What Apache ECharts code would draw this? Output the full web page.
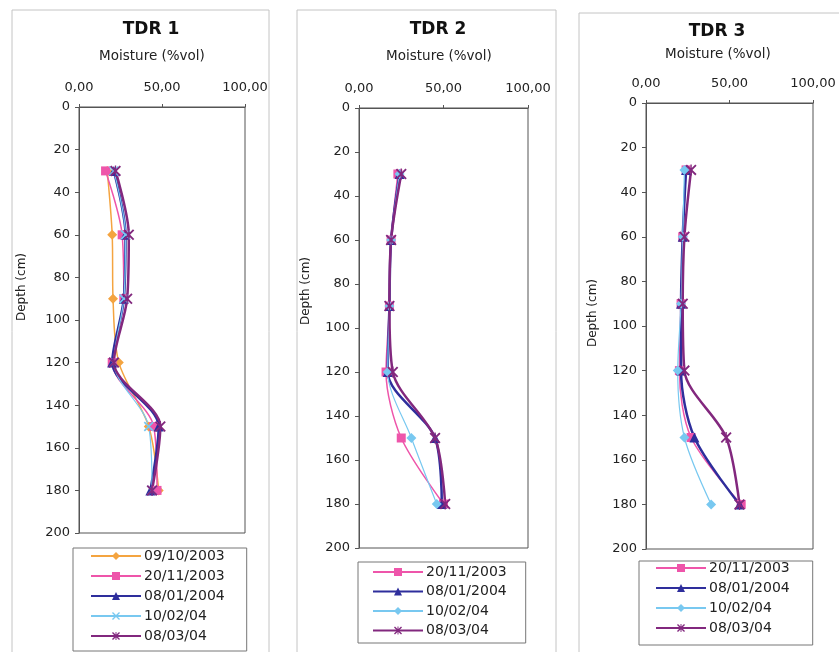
<!DOCTYPE html>
<html><head><meta charset="utf-8">
<script src="https://cdn.jsdelivr.net/npm/echarts@6/dist/echarts.min.js"></script>
<style>html,body{margin:0;padding:0;background:#fff}#c{width:839px;height:652px}</style>
</head><body><div id="c"></div><script>
// ---------- DATA ----------
const depths = [30, 60, 90, 120, 150, 180];
const xTicks = [0, 50, 100];
const panelTitles = ['TDR 1', 'TDR 2', 'TDR 3'];
const xAxisTitle = 'Moisture (%vol)';
const yAxisTitle = 'Depth (cm)';
const dateNames = ['09/10/2003', '20/11/2003', '08/01/2004', '10/02/04', '08/03/04'];

// TDR 1 moisture (%vol) at each depth
const tdr1_09102003 = [17, 20, 20.5, 24, 42, 48];
const tdr1_20112003 = [16, 26, 27, 20, 45, 47];
const tdr1_08012004 = [21, 28, 27, 20, 48, 43];
const tdr1_100204   = [21, 28, 27, 21, 42, 44];
const tdr1_080304   = [22, 30, 29, 21, 49, 44];
// TDR 2
const tdr2_20112003 = [23, 19, 18, 16, 25, 50];
const tdr2_08012004 = [24, 19, 18, 17, 45, 49];
const tdr2_100204   = [24, 19, 18, 17, 31, 46];
const tdr2_080304   = [25, 19, 18, 20, 45, 51];
// TDR 3
const tdr3_20112003 = [24, 22, 21, 20, 27, 57];
const tdr3_08012004 = [24, 22, 21, 21, 29, 56];
const tdr3_100204   = [23, 22, 21, 19, 23, 39];
const tdr3_080304   = [27, 23, 22, 23, 48, 56];

// ---------- STYLE / LAYOUT ----------
const XSYM = 'path://M0,1.2L1.2,0L5,3.8L8.8,0L10,1.2L6.2,5L10,8.8L8.8,10L5,6.2L1.2,10L0,8.8L3.8,5Z';
const STAR = 'path://M0,1.2L1.2,0L4.4,3.2L4.4,0L5.6,0L5.6,3.2L8.8,0L10,1.2L6.2,5L10,8.8L8.8,10L5.6,6.8L5.6,10L4.4,10L4.4,6.8L1.2,10L0,8.8L3.8,5Z';
const styles = {
  '09/10/2003': {color: '#F4A440', symbol: 'diamond', size: 10, width: 1.5},
  '20/11/2003': {color: '#EE55AA', symbol: 'rect', size: 9, width: 1.5},
  '08/01/2004': {color: '#2E2E9C', symbol: 'triangle', size: 10, width: 2.5},
  '10/02/04':   {color: '#78C8F0', symbol: 'diamond', size: 10, width: 1.2},
  '08/03/04':   {color: '#82287E', symbol: STAR, size: 11, width: 2.5}
};
const panels = [
  {grid: {left: 79, top: 107, width: 166, height: 426}, frame: [12, 10, 257, 700],
   titleX: 151, titleY: 21, subY: 49, depthX: 22, depthY: 287,
   legend: {left: 73, top: 548, padding: [1, 22, 8, 17], gap: 6},
   series: [['09/10/2003', tdr1_09102003], ['20/11/2003', tdr1_20112003], ['08/01/2004', tdr1_08012004],
            ['10/02/04', tdr1_100204, XSYM], ['08/03/04', tdr1_080304]]},
  {grid: {left: 359, top: 108, width: 169, height: 440}, frame: [297, 10, 259, 700],
   titleX: 438, titleY: 21, subY: 49, depthX: 306, depthY: 291,
   legend: {left: 358, top: 562, padding: [3, 19, 5.5, 14], gap: 5.5},
   series: [['20/11/2003', tdr2_20112003], ['08/01/2004', tdr2_08012004],
            ['10/02/04', tdr2_100204], ['08/03/04', tdr2_080304]]},
  {grid: {left: 646, top: 103, width: 167, height: 446}, frame: [579, 13, 300, 700],
   titleX: 717, titleY: 23, subY: 47, depthX: 593, depthY: 313,
   legend: {left: 639, top: 561, padding: [0, 23, 10, 16], gap: 6},
   series: [['20/11/2003', tdr3_20112003], ['08/01/2004', tdr3_08012004],
            ['10/02/04', tdr3_100204], ['08/03/04', tdr3_080304]]}
];

const FONT = 'DejaVu Sans';
const option = {
  animation: false,
  backgroundColor: '#fff',
  title: [], grid: [], xAxis: [], yAxis: [], legend: [], series: [], graphic: []
};

panels.forEach((p, i) => {
  option.graphic.push({type: 'rect', z: -10, shape: {x: p.frame[0], y: p.frame[1], width: p.frame[2], height: p.frame[3]},
    style: {fill: 'none', stroke: '#c4c4c4', lineWidth: 1}});
  option.graphic.push({type: 'text', x: p.depthX, y: p.depthY, rotation: Math.PI / 2,
    style: {text: yAxisTitle, font: '12px "DejaVu Sans"', fill: '#222', textAlign: 'center', textVerticalAlign: 'middle'}});
  option.title.push({text: panelTitles[i], left: p.titleX, top: p.titleY, textAlign: 'center', padding: 0,
    textStyle: {fontFamily: FONT, fontWeight: 'bold', fontSize: 17, color: '#111'}});
  option.title.push({text: xAxisTitle, left: p.titleX + 1, top: p.subY, textAlign: 'center', padding: 0,
    textStyle: {fontFamily: FONT, fontWeight: 'normal', fontSize: 13.5, color: '#222'}});
  option.grid.push(Object.assign({show: true, borderColor: '#555', borderWidth: 1, backgroundColor: '#fff'}, p.grid));
  option.xAxis.push({type: 'value', gridIndex: i, position: 'top', min: xTicks[0], max: xTicks[xTicks.length - 1],
    interval: xTicks[1] - xTicks[0],
    axisLine: {show: true, lineStyle: {color: '#555'}}, axisTick: {show: true, length: 3, lineStyle: {color: '#555'}},
    splitLine: {show: false},
    axisLabel: {margin: 13, fontFamily: FONT, fontSize: 13, color: '#222',
      formatter: v => v.toFixed(2).replace('.', ',')}});
  option.yAxis.push({type: 'value', gridIndex: i, inverse: true, min: 0, max: 200, interval: 20,
    axisLine: {show: true, lineStyle: {color: '#555'}}, axisTick: {show: true, length: 4, lineStyle: {color: '#555'}},
    splitLine: {show: false},
    axisLabel: {margin: 9, fontFamily: FONT, fontSize: 13, color: '#222'}});
  const legendData = [];
  p.series.forEach(([name, vals, sym]) => {
    const st = styles[name];
    const sname = name + '#' + (i + 1);
    legendData.push(sname);
    option.series.push({
      type: 'line', name: sname, xAxisIndex: i, yAxisIndex: i,
      data: vals.map((v, k) => [v, depths[k]]),
      smooth: 0.3,
      symbol: sym || st.symbol, symbolSize: st.size,
      lineStyle: {color: st.color, width: st.width},
      itemStyle: {color: st.color},
      emphasis: {disabled: true}
    });
  });
  option.legend.push({orient: 'vertical', left: p.legend.left, top: p.legend.top, height: 300, padding: p.legend.padding,
    itemGap: p.legend.gap, itemWidth: 50, itemHeight: 10, selectedMode: false,
    borderColor: '#777', borderWidth: 1, data: legendData,
    formatter: n => n.split('#')[0],
    textStyle: {fontFamily: FONT, fontSize: 14, color: '#222', padding: [0, 0, 0, -2]}});
});

const chart = echarts.init(document.getElementById('c'), null, {renderer: 'canvas'});
chart.setOption(option);
</script></body></html>
